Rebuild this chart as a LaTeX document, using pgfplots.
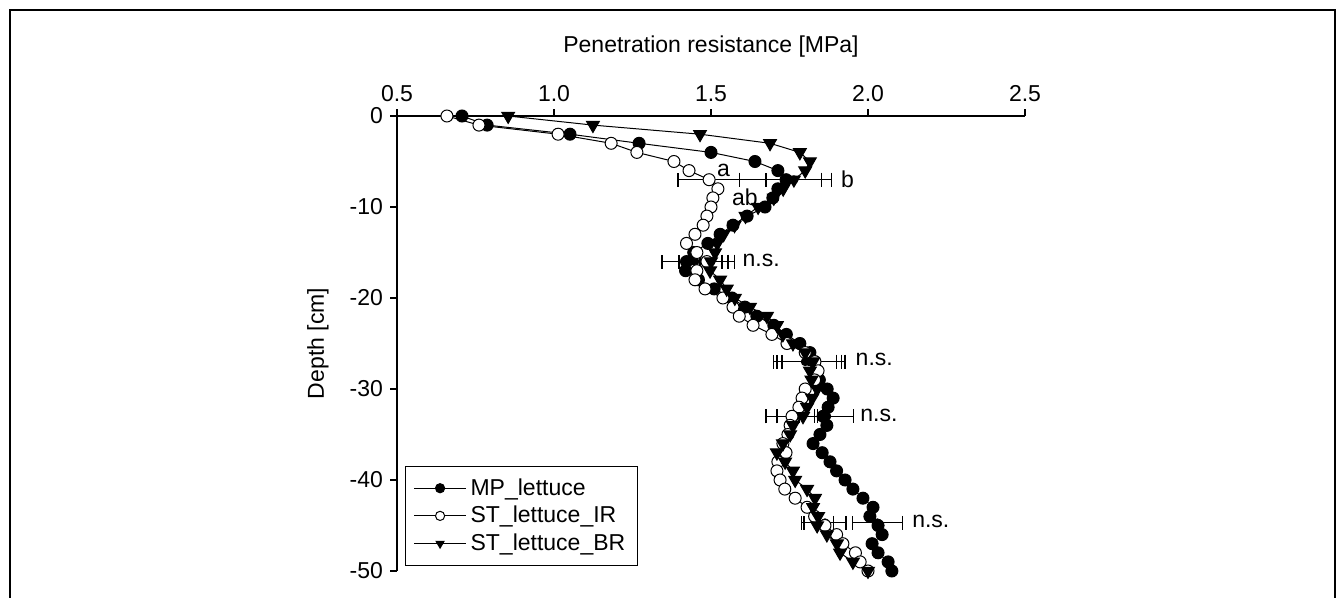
\documentclass[border=0pt]{standalone}
\usepackage{pgfplots}
\pgfplotsset{compat=1.18}
\usepackage{fontspec}
\setmainfont{Liberation Sans}
\newcommand\F{\fontsize{11.5}{13.8}\selectfont}
\begin{document}
\begin{tikzpicture}
\useasboundingbox (0pt,0pt) rectangle (670.5pt,299pt);
\draw[line width=1.1pt] (5pt,-2pt) -- (5pt,294pt) -- (667.5pt,294pt) -- (667.5pt,-2pt);
\begin{axis}[
  at={(198.5pt,13.5pt)}, anchor=south west,
  scale only axis, width=314pt, height=227.5pt,
  xmin=0.5, xmax=2.5, ymin=-50, ymax=0,
  axis x line*=top, axis y line*=left,
  xtick pos=right, ytick pos=left, xticklabel pos=right,
  tick align=outside, major tick length=3.5pt,
  axis line style={line width=0.6pt}, tick style={line width=0.6pt, black},
  xtick={0.5,1,1.5,2,2.5}, xticklabels={0.5,1.0,1.5,2.0,2.5},
  ytick={0,-10,-20,-30,-40,-50}, yticklabels={0,-10,-20,-30,-40,-50},
  tick label style={font=\F},
  xlabel={Penetration resistance [MPa]}, ylabel={Depth [cm]},
  label style={font=\F},
  xlabel style={at={(axis description cs:0.5,1)}, anchor=center, yshift=34.5pt},
  ylabel style={at={(axis description cs:0,0.5)}, anchor=center, yshift=39.5pt},
  clip=false,
  legend style={at={(rel axis cs:0.0127,0.011)}, anchor=south west, draw=black, line width=0.6pt, font=\F, inner xsep=4pt, inner ysep=4pt, row sep=0pt},
  legend cell align=left,
  legend image code/.code={\draw[mark repeat=2,mark phase=2,#1,mark size=2.3pt] plot coordinates {(0pt,0pt) (13pt,0pt) (26pt,0pt)};},
]
\addplot[black, only marks, mark=none, forget plot,
  error bars/.cd, x dir=both, x explicit,
  error bar style={line width=0.6pt, black}, error mark options={rotate=90, mark size=3.5pt, line width=0.6pt, black}]
coordinates {
(1.4925,-7) +- (0.0975,0) (1.7375,-7) +- (0.1475,0) (1.764,-7) +- (0.089,0)
(1.449,-16) +- (0.105,0) (1.487,-16) +- (0.089,0) (1.500,-16) +- (0.035,0)
(1.800,-27) +- (0.100,0) (1.8125,-27) +- (0.1025,0) (1.8265,-27) +- (0.1005,0)
(1.7575,-33) +- (0.0825,0) (1.770,-33) +- (0.060,0) (1.869,-33) +- (0.086,0)
(1.8385,-44.7) +- (0.0515,0) (1.863,-44.7) +- (0.067,0) (2.030,-44.7) +- (0.080,0)};
\addplot[black, line width=0.5pt, mark=*, mark size=3pt, mark options={fill=black}] coordinates {
(0.707,0) (0.787,-1) (1.051,-2) (1.271,-3) (1.500,-4) (1.640,-5) (1.713,-6) (1.739,-7) (1.713,-8) (1.697,-9)
(1.672,-10) (1.615,-11) (1.570,-12) (1.529,-13) (1.490,-14) (1.445,-15) (1.422,-16) (1.419,-17) (1.460,-18) (1.510,-19)
(1.567,-20) (1.608,-21) (1.646,-22) (1.700,-23) (1.740,-24) (1.783,-25) (1.815,-26) (1.830,-27) (1.838,-28) (1.845,-29)
(1.870,-30) (1.889,-31) (1.873,-32) (1.857,-33) (1.869,-34) (1.847,-35) (1.825,-36) (1.854,-37) (1.879,-38) (1.900,-39)
(1.927,-40) (1.952,-41) (1.984,-42) (2.016,-43) (2.006,-44) (2.032,-45) (2.045,-46) (2.013,-47) (2.032,-48) (2.064,-49) (2.076,-50)};
\addlegendentry{MP\_lettuce}
\addplot[black, line width=0.5pt, mark=*, mark size=3pt, mark options={fill=white}] coordinates {
(0.659,0) (0.761,-1) (1.013,-2) (1.182,-3) (1.264,-4) (1.382,-5) (1.430,-6) (1.494,-7) (1.522,-8) (1.506,-9)
(1.500,-10) (1.487,-11) (1.475,-12) (1.449,-13) (1.422,-14) (1.455,-15) (1.487,-16) (1.455,-17) (1.449,-18) (1.481,-19)
(1.538,-20) (1.570,-21) (1.590,-22) (1.634,-23) (1.694,-24) (1.742,-25) (1.800,-26) (1.831,-27) (1.841,-28) (1.830,-29)
(1.800,-30) (1.790,-31) (1.780,-32) (1.758,-33) (1.752,-34) (1.745,-35) (1.729,-36) (1.739,-37) (1.713,-38) (1.710,-39)
(1.720,-40) (1.735,-41) (1.768,-42) (1.806,-43) (1.830,-44) (1.863,-45) (1.900,-46) (1.920,-47) (1.960,-48) (1.975,-49) (2.000,-50)};
\addlegendentry{ST\_lettuce\_IR}
\addplot[black, line width=0.5pt, mark=triangle*, mark size=3.7pt, mark options={fill=black, rotate=180}] coordinates {
(0.854,0) (1.124,-1) (1.465,-2) (1.688,-3) (1.783,-4) (1.815,-5) (1.800,-6) (1.764,-7) (1.730,-8) (1.700,-9)
(1.650,-10) (1.610,-11) (1.575,-12) (1.540,-13) (1.520,-14) (1.513,-15) (1.500,-16) (1.497,-17) (1.529,-18) (1.550,-19)
(1.576,-20) (1.624,-21) (1.678,-22) (1.710,-23) (1.729,-24) (1.761,-25) (1.800,-26) (1.825,-27) (1.815,-28) (1.820,-29)
(1.838,-30) (1.822,-31) (1.806,-32) (1.793,-33) (1.761,-34) (1.752,-35) (1.729,-36) (1.710,-37) (1.736,-38) (1.761,-39)
(1.768,-40) (1.806,-41) (1.831,-42) (1.825,-43) (1.841,-44) (1.838,-45) (1.869,-46) (1.901,-47) (1.911,-48) (1.952,-49) (2.000,-50)};
\addlegendentry{ST\_lettuce\_BR}
\node[font=\F] at (axis cs:1.54,-6.0) {a};
\node[font=\F] at (axis cs:1.608,-8.9) {ab};
\node[font=\F] at (axis cs:1.935,-7.0) {b};
\node[font=\F] at (axis cs:1.66,-15.9) {n.s.};
\node[font=\F] at (axis cs:2.02,-26.8) {n.s.};
\node[font=\F] at (axis cs:2.035,-32.9) {n.s.};
\node[font=\F] at (axis cs:2.20,-44.6) {n.s.};
\end{axis}
\end{tikzpicture}
\end{document}
